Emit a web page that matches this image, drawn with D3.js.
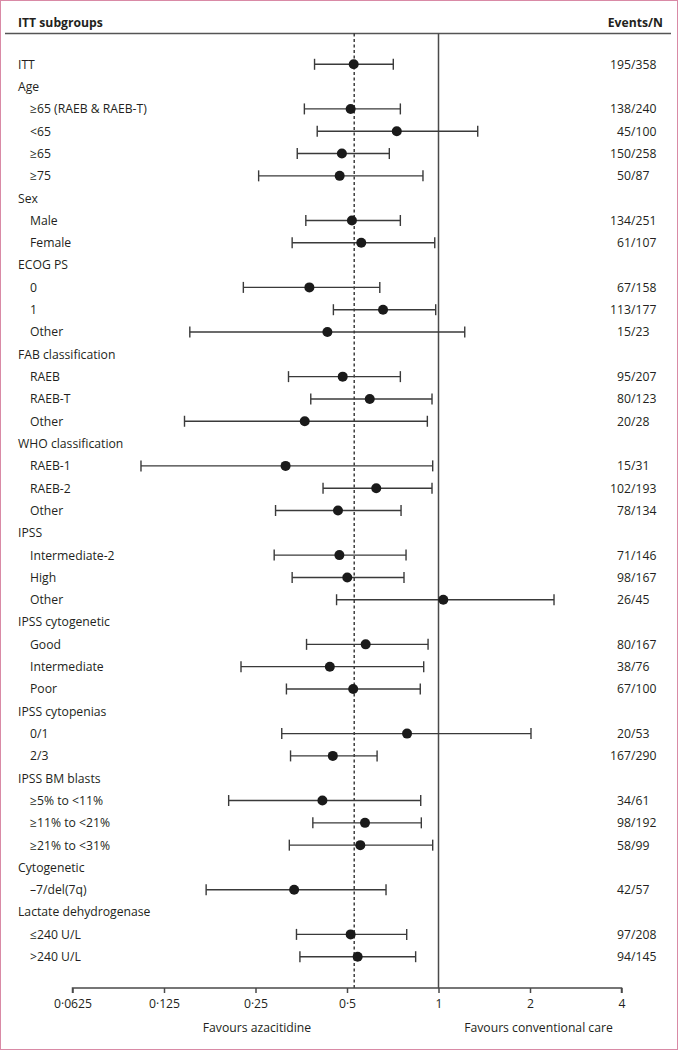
<!DOCTYPE html>
<html>
<head>
<meta charset="utf-8">
<script src="https://cdn.jsdelivr.net/npm/d3@7"></script>
<style>
  html, body { margin: 0; padding: 0; background: #fff; }
  svg { display: block; }
  text { font-family: "Open Sans", "Noto Sans", sans-serif; fill: #231f20; }
</style>
</head>
<body>
<svg id="chart" width="678" height="1050"></svg>
<script>
// ---------------- data ----------------
const rowLabels = [
  "ITT", "Age", "≥65 (RAEB & RAEB-T)", "<65", "≥65", "≥75",
  "Sex", "Male", "Female",
  "ECOG PS", "0", "1", "Other",
  "FAB classification", "RAEB", "RAEB-T", "Other",
  "WHO classification", "RAEB-1", "RAEB-2", "Other",
  "IPSS", "Intermediate-2", "High", "Other",
  "IPSS cytogenetic", "Good", "Intermediate", "Poor",
  "IPSS cytopenias", "0/1", "2/3",
  "IPSS BM blasts", "≥5% to <11%", "≥11% to <21%", "≥21% to <31%",
  "Cytogenetic", "–7/del(7q)",
  "Lactate dehydrogenase", "≤240 U/L", ">240 U/L"
];
// 0 = group heading, 1 = subgroup
const rowLevel = [
  0, 0, 1, 1, 1, 1,
  0, 1, 1,
  0, 1, 1, 1,
  0, 1, 1, 1,
  0, 1, 1, 1,
  0, 1, 1, 1,
  0, 1, 1, 1,
  0, 1, 1,
  0, 1, 1, 1,
  0, 1,
  0, 1, 1
];
const hazardRatio = [
  0.526, null, 0.514, 0.729, 0.481, 0.473,
  null, 0.519, 0.557,
  null, 0.376, 0.657, 0.431,
  null, 0.484, 0.594, 0.363,
  null, 0.314, 0.624, 0.467,
  null, 0.472, 0.501, 1.037,
  null, 0.576, 0.439, 0.524,
  null, 0.788, 0.449,
  null, 0.415, 0.573, 0.553,
  null, 0.335,
  null, 0.514, 0.542
];
const ciLow = [
  0.391, null, 0.362, 0.399, 0.343, 0.256,
  null, 0.366, 0.330,
  null, 0.228, 0.451, 0.152,
  null, 0.321, 0.380, 0.146,
  null, 0.105, 0.417, 0.291,
  null, 0.288, 0.330, 0.462,
  null, 0.368, 0.224, 0.316,
  null, 0.305, 0.326,
  null, 0.204, 0.386, 0.323,
  null, 0.172,
  null, 0.341, 0.350
];
const ciHigh = [
  0.710, null, 0.749, 1.346, 0.689, 0.889,
  null, 0.749, 0.972,
  null, 0.641, 0.979, 1.220,
  null, 0.749, 0.952, 0.919,
  null, 0.957, 0.952, 0.753,
  null, 0.782, 0.770, 2.399,
  null, 0.924, 0.894, 0.871,
  null, 2.015, 0.628,
  null, 0.874, 0.878, 0.957,
  null, 0.672,
  null, 0.786, 0.841
];
const events = [
  195, null, 138, 45, 150, 50,
  null, 134, 61,
  null, 67, 113, 15,
  null, 95, 80, 20,
  null, 15, 102, 78,
  null, 71, 98, 26,
  null, 80, 38, 67,
  null, 20, 167,
  null, 34, 98, 58,
  null, 42,
  null, 97, 94
];
const totals = [
  358, null, 240, 100, 258, 87,
  null, 251, 107,
  null, 158, 177, 23,
  null, 207, 123, 28,
  null, 31, 193, 134,
  null, 146, 167, 45,
  null, 167, 76, 100,
  null, 53, 290,
  null, 61, 192, 99,
  null, 57,
  null, 208, 145
];
const overallHR = 0.528;
const tickValues = [0.0625, 0.125, 0.25, 0.5, 1, 2, 4];
const tickLabels = ["0·0625", "0·125", "0·25", "0·5", "1", "2", "4"];
const headerLeft = "ITT subgroups";
const headerRight = "Events/N";
const favourLeft = "Favours azacitidine";
const favourRight = "Favours conventional care";

// ---------------- drawing ----------------
const svg = d3.select("#chart");
const W = 678, H = 1050;
const FS = 12.2;
const ink = "#231f20";
const lineCol = "#3a3a3a";

svg.append("rect").attr("x", 0.5).attr("y", 0.5).attr("width", W - 1).attr("height", H - 1)
  .attr("fill", "#fff").attr("stroke", "#d98aa6").attr("stroke-width", 1);

const x = d3.scaleLog().base(2).domain([0.0625, 4]).range([72.5, 621.5]);
const rows = d3.range(rowLabels.length);
const y = d3.scalePoint().domain(rows).range([64.3, 956.7]);

const topY = 33.5, axisY = 988;
const base = 4.4;

// header
svg.append("text").attr("x", 18).attr("y", 27).attr("font-size", FS).attr("font-weight", 700)
  .text(headerLeft);
svg.append("text").attr("x", 663).attr("y", 27).attr("font-size", FS).attr("font-weight", 700)
  .attr("text-anchor", "end").text(headerRight);
svg.append("line").attr("x1", 5).attr("x2", 671).attr("y1", topY).attr("y2", topY)
  .attr("stroke", "#555").attr("stroke-width", 1.5);

// reference lines
svg.append("line").attr("x1", x(1)).attr("x2", x(1)).attr("y1", topY).attr("y2", axisY)
  .attr("stroke", "#4a4a4a").attr("stroke-width", 1.5);
svg.append("line").attr("x1", x(overallHR)).attr("x2", x(overallHR)).attr("y1", topY).attr("y2", axisY)
  .attr("stroke", "#222").attr("stroke-width", 1.3).attr("stroke-dasharray", "3,2.5");

// row labels
svg.append("g").selectAll("text").data(rows).join("text")
  .attr("x", i => rowLevel[i] === 0 ? 18 : 30)
  .attr("y", i => y(i) + base)
  .attr("font-size", FS)
  .text(i => rowLabels[i]);

// events/N aligned on slash
const ev = svg.append("g").selectAll("g").data(rows.filter(i => events[i] != null)).join("g");
ev.append("text").attr("x", 631).attr("y", i => y(i) + base).attr("font-size", FS)
  .attr("text-anchor", "end").text(i => events[i]);
ev.append("text").attr("x", 631).attr("y", i => y(i) + base).attr("font-size", FS)
  .attr("text-anchor", "start").text(i => "/" + totals[i]);

// CI bars
const est = rows.filter(i => hazardRatio[i] != null);
const g = svg.append("g").attr("stroke", lineCol).attr("stroke-width", 1.4);
g.selectAll("line.ci").data(est).join("line").attr("class", "ci")
  .attr("x1", i => x(ciLow[i])).attr("x2", i => x(ciHigh[i]))
  .attr("y1", i => y(i)).attr("y2", i => y(i));
g.selectAll("line.capl").data(est).join("line").attr("class", "capl")
  .attr("x1", i => x(ciLow[i])).attr("x2", i => x(ciLow[i]))
  .attr("y1", i => y(i) - 5.5).attr("y2", i => y(i) + 5.5);
g.selectAll("line.caph").data(est).join("line").attr("class", "caph")
  .attr("x1", i => x(ciHigh[i])).attr("x2", i => x(ciHigh[i]))
  .attr("y1", i => y(i) - 5.5).attr("y2", i => y(i) + 5.5);
svg.append("g").selectAll("circle").data(est).join("circle")
  .attr("cx", i => x(hazardRatio[i])).attr("cy", i => y(i)).attr("r", 5)
  .attr("fill", "#1a1a1a");

// axis
const axis = d3.axisBottom(x).tickValues(tickValues)
  .tickFormat((d, i) => tickLabels[i]).tickSize(5).tickPadding(6);
const ax = svg.append("g").attr("transform", `translate(0,${axisY})`).call(axis);
ax.select(".domain").attr("stroke", "#4a4a4a").attr("stroke-width", 1.5)
  .attr("d", `M${x(0.0625)},5V0H${x(4)}V5`);
ax.selectAll(".tick line").attr("stroke", "#4a4a4a").attr("stroke-width", 1.5);
ax.selectAll(".tick text").attr("font-size", FS).attr("font-family", "'Open Sans', 'Noto Sans', sans-serif")
  .attr("fill", ink);

svg.append("text").attr("x", x(0.25) + 1.5).attr("y", 1032).attr("font-size", FS)
  .attr("text-anchor", "middle").text(favourLeft);
svg.append("text").attr("x", x(2) + 8.5).attr("y", 1032).attr("font-size", FS)
  .attr("text-anchor", "middle").text(favourRight);
</script>
</body>
</html>
